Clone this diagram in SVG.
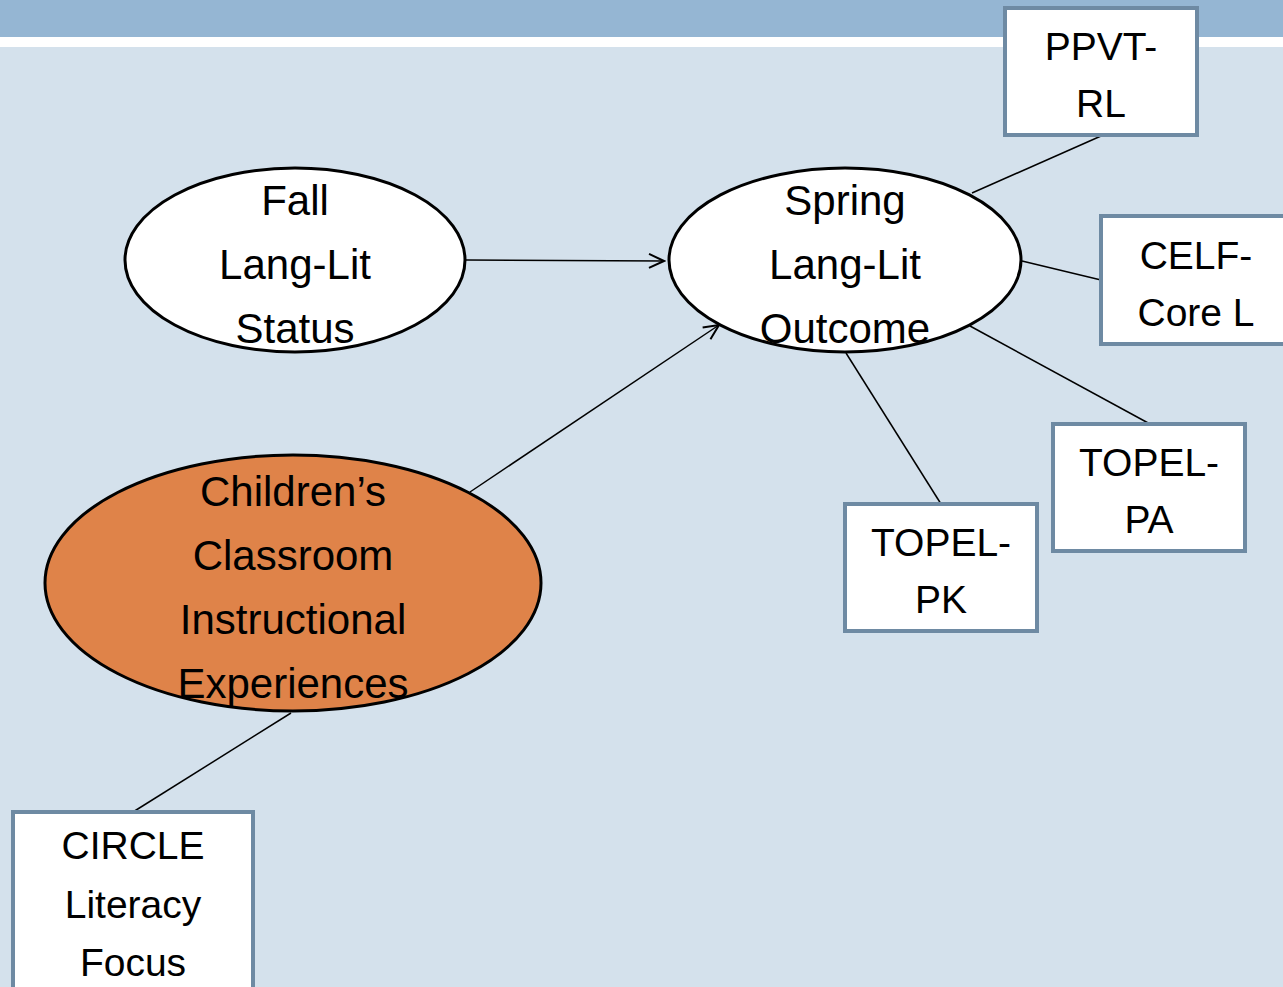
<svg xmlns="http://www.w3.org/2000/svg" width="1283" height="987" viewBox="0 0 1283 987">
<defs>
<style>
.t{font-family:"Liberation Sans",Arial,sans-serif;fill:#000;text-anchor:middle}
.e{font-size:42px}
.b{font-size:39px}
.box{fill:#fff;stroke:#6e8aa3;stroke-width:4}
.ell{stroke:#000;stroke-width:3}
.c{stroke:#000;stroke-width:1.5;fill:none}
</style>
<marker id="arr" viewBox="0 0 20 20" refX="18" refY="10" markerWidth="20" markerHeight="20" markerUnits="userSpaceOnUse" orient="auto">
<path d="M3,3 L18,10 L3,17" fill="none" stroke="#000" stroke-width="2"/>
</marker>
</defs>
<rect x="0" y="0" width="1283" height="987" fill="#d4e1ec"/>
<rect x="0" y="0" width="1283" height="37" fill="#95b6d3"/>
<rect x="0" y="37" width="1283" height="10" fill="#fff"/>
<g id="connectors">
<line class="c" x1="466" y1="260" x2="664" y2="261" marker-end="url(#arr)"/>
<line class="c" x1="470" y1="492" x2="719" y2="325" marker-end="url(#arr)"/>
<line class="c" x1="972" y1="193" x2="1101" y2="136"/>
<line class="c" x1="1022" y1="261" x2="1101" y2="280"/>
<line class="c" x1="970" y1="326" x2="1150" y2="424"/>
<line class="c" x1="846" y1="353" x2="941" y2="504"/>
<line class="c" x1="291" y1="713" x2="133" y2="812"/>
</g>
<g id="fall">
<ellipse class="ell" cx="295" cy="260" rx="170" ry="92" fill="#fff"/>
<text class="t e" x="295" y="215">Fall</text>
<text class="t e" x="295" y="279">Lang-Lit</text>
<text class="t e" x="295" y="343">Status</text>
</g>
<g id="spring">
<ellipse class="ell" cx="845" cy="260" rx="176" ry="92" fill="#fff"/>
<text class="t e" x="845" y="215">Spring</text>
<text class="t e" x="845" y="279">Lang-Lit</text>
<text class="t e" x="845" y="343">Outcome</text>
</g>
<g id="children">
<ellipse class="ell" cx="293" cy="583" rx="248" ry="128" fill="#df8349"/>
<text class="t e" x="293" y="506">Children’s</text>
<text class="t e" x="293" y="570">Classroom</text>
<text class="t e" x="293" y="634">Instructional</text>
<text class="t e" x="293" y="698">Experiences</text>
</g>
<g id="ppvt">
<rect class="box" x="1005" y="8" width="192" height="127"/>
<text class="t b" x="1101" y="60">PPVT-</text>
<text class="t b" x="1101" y="117">RL</text>
</g>
<g id="celf">
<rect class="box" x="1101" y="216" width="190" height="128"/>
<text class="t b" x="1196" y="269">CELF-</text>
<text class="t b" x="1196" y="326">Core L</text>
</g>
<g id="topelpa">
<rect class="box" x="1053" y="424" width="192" height="127"/>
<text class="t b" x="1149" y="476">TOPEL-</text>
<text class="t b" x="1149" y="533">PA</text>
</g>
<g id="topelpk">
<rect class="box" x="845" y="504" width="192" height="127"/>
<text class="t b" x="941" y="556">TOPEL-</text>
<text class="t b" x="941" y="613">PK</text>
</g>
<g id="circle">
<rect class="box" x="13" y="812" width="240" height="190"/>
<text class="t b" x="133" y="859">CIRCLE</text>
<text class="t b" x="133" y="918">Literacy</text>
<text class="t b" x="133" y="976">Focus</text>
</g>
</svg>
